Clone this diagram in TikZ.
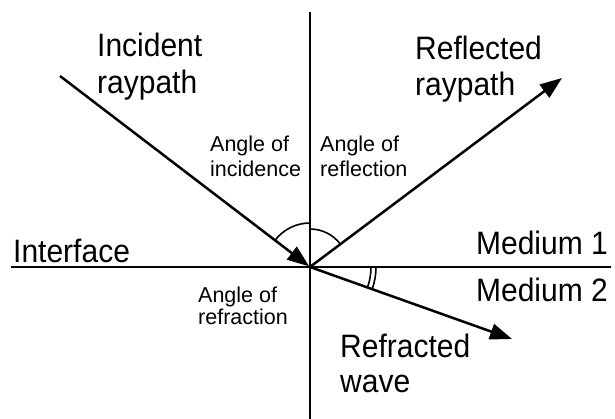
\documentclass[tikz,border=0pt]{standalone}
\usepackage{fontspec}
\usepackage{graphicx}
\setmainfont{Liberation Sans}
\usetikzlibrary{arrows.meta,calc}
\newcommand{\tallbig}[1]{\scalebox{1}[1.08]{#1}}
\begin{document}
\begin{tikzpicture}[x=1pt,y=1pt,
  axis/.style={line width=2.9pt},
  ray/.style={line width=2.5pt,-{Triangle[length=22pt,width=16pt]}},
  anglearc/.style={line width=1.6pt},
  biglabel/.style={font=\fontsize{30}{36}\selectfont,inner sep=0pt,anchor=base west},
  smalllabel/.style={font=\fontsize{21.5}{25}\selectfont,inner sep=0pt,anchor=base west}]
\useasboundingbox (0,0) rectangle (615,419);
% named points
\coordinate (O) at (310,152);
\coordinate (vtop) at (310,407);
\coordinate (vbot) at (310,0);
\coordinate (hl) at (11,152);
\coordinate (hr) at (611,152);
\coordinate (incS) at (60,343);
\coordinate (refT) at (562,341);
\coordinate (frT) at (512,80);
% axes
\draw[axis] (vtop) -- (vbot);
\draw[axis] (hl) -- (hr);
% rays
\draw[ray,shorten >=1pt] (incS) -- (O);
\draw[ray] (O) -- (refT);
\draw[ray] (O) -- (frT);
% angle arcs
\draw[anglearc] ($(O)+(142.6:44)$) arc[start angle=142.6,end angle=90,radius=44];
\draw[anglearc] ($(O)+(90:38)$) arc[start angle=90,end angle=36.9,radius=38];
\draw[anglearc] ($(O)+(0:61)$) arc[start angle=0,end angle=-19.6,radius=61];
\draw[anglearc] ($(O)+(0:66)$) arc[start angle=0,end angle=-19.6,radius=66];
% labels
\node[biglabel] (inc1) at (97,362) {\tallbig{Incident}};
\node[biglabel] (inc2) at (97,325) {\tallbig{raypath}};
\node[biglabel] (ref1) at (415,359) {\tallbig{Reflected}};
\node[biglabel] (ref2) at (415,323) {\tallbig{raypath}};
\node[biglabel] (fr1) at (340,61) {\tallbig{Refracted}};
\node[biglabel] (fr2) at (340,26) {\tallbig{wave}};
\node[biglabel] (intf) at (13,156) {\tallbig{Interface}};
\node[biglabel,anchor=base east] (med1) at (608,164) {\tallbig{Medium 1}};
\node[biglabel,anchor=base east] (med2) at (608,117) {\tallbig{Medium 2}};
\node[smalllabel] (ai1) at (210,267) {Angle of};
\node[smalllabel] (ai2) at (210,242) {incidence};
\node[smalllabel] (ar1) at (320,267) {Angle of};
\node[smalllabel] (ar2) at (320,242) {reflection};
\node[smalllabel] (af1) at (198,116) {Angle of};
\node[smalllabel] (af2) at (198,94) {refraction};
\end{tikzpicture}
\end{document}
